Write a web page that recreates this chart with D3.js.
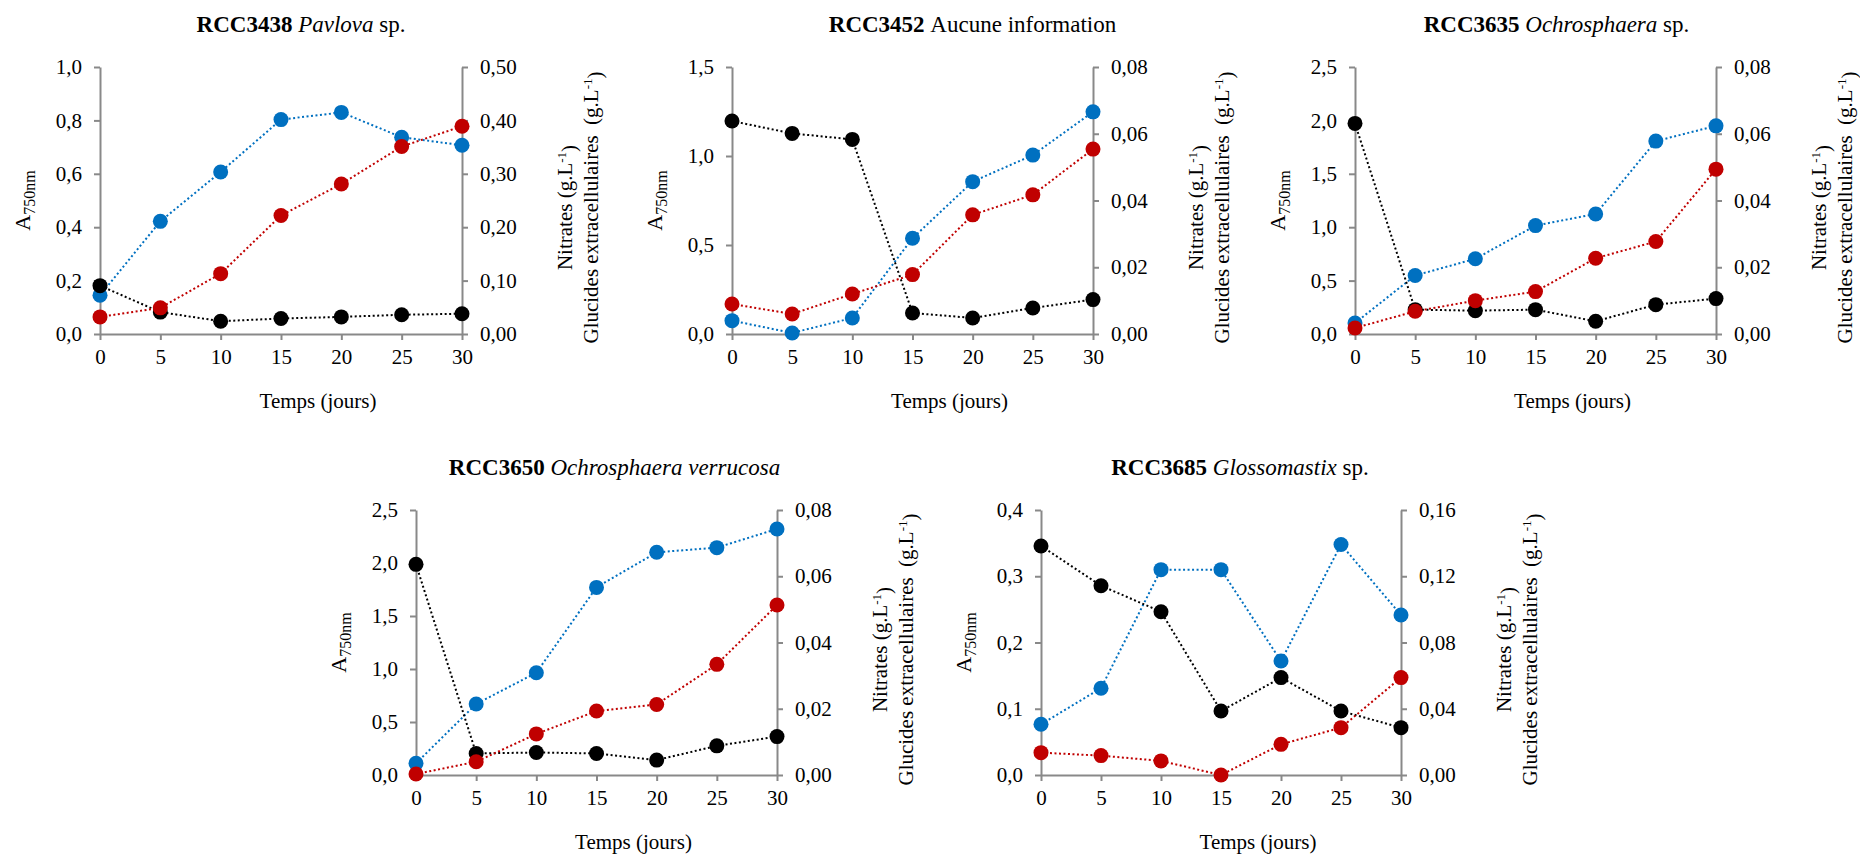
<!DOCTYPE html>
<meta charset='utf-8'>
<style>

body {
  margin: 0;
  background: #fff;
  font-family: 'Liberation Serif', 'Times New Roman', serif;
}

.axis line, .axis path {
  stroke: #898989;
  stroke-width: 2;
  fill: none;
}

.serie path {
  fill: none;
  stroke-width: 2;
  stroke-dasharray: 2,2.5;
}

</style>
<svg width='1860' height='857'></svg>

<script src='https://d3js.org/d3.v7.min.js'></script>

<script>

// --- data ---
var days = [0, 5, 10, 15, 20, 25, 30];

var strains = ['RCC3438', 'RCC3452', 'RCC3635', 'RCC3650', 'RCC3685'];
var taxa = ['Pavlova', 'Aucune information', 'Ochrosphaera', 'Ochrosphaera verrucosa', 'Glossomastix'];
var taxaItalic = [true, false, true, true, true];
var taxaSuffix = [' sp.', '', ' sp.', '', ' sp.'];

// A750nm (left axis, blue)
var absorbance = [
  [0.145, 0.422, 0.607, 0.803, 0.830, 0.737, 0.707],
  [0.075, 0.006, 0.090, 0.538, 0.856, 1.005, 1.248],
  [0.103, 0.548, 0.704, 1.015, 1.124, 1.806, 1.949],
  [0.110, 0.670, 0.965, 1.770, 2.101, 2.145, 2.321],
  [0.0765, 0.131, 0.310, 0.310, 0.172, 0.348, 0.2415]
];

// nitrates g.L-1 (right axis, black)
var nitrates = [
  [0.0905, 0.041, 0.024, 0.029, 0.032, 0.036, 0.038],
  [0.0638, 0.0601, 0.0583, 0.0063, 0.0048, 0.0078, 0.0103],
  [0.0631, 0.0073, 0.0070, 0.0073, 0.0038, 0.0088, 0.0106],
  [0.0636, 0.0065, 0.0068, 0.0065, 0.0045, 0.0088, 0.0116],
  [0.1383, 0.1143, 0.0986, 0.0386, 0.0588, 0.0386, 0.0286]
];

// glucides extracellulaires g.L-1 (right axis, red)
var glucides = [
  [0.032, 0.049, 0.113, 0.222, 0.281, 0.351, 0.389],
  [0.0090, 0.0060, 0.0120, 0.0178, 0.0357, 0.0417, 0.0554],
  [0.0018, 0.0068, 0.0100, 0.0127, 0.0227, 0.0277, 0.0494],
  [0.0003, 0.0040, 0.0124, 0.0193, 0.0213, 0.0334, 0.0513],
  [0.0135, 0.0117, 0.0085, 0.0000, 0.0185, 0.0286, 0.0588]
];

var leftMax = [1.0, 1.5, 2.5, 2.5, 0.4];
var leftStep = [0.2, 0.5, 0.5, 0.5, 0.1];
var rightMax = [0.5, 0.08, 0.08, 0.08, 0.16];
var rightStep = [0.1, 0.02, 0.02, 0.02, 0.04];

// --- layout ---
var boxes = [
  {x: 100, y: 67, w: 362, h: 267, titleDx: 20},
  {x: 732, y: 67, w: 361, h: 267, titleDx: 60},
  {x: 1355, y: 67, w: 361, h: 267, titleDx: 21},
  {x: 416, y: 510, w: 361, h: 265, titleDx: 18},
  {x: 1041, y: 510, w: 360, h: 265, titleDx: 19}
];

var serif = "'Liberation Serif', 'Times New Roman', serif";
var svg = d3.select('svg');
var fmt1 = function(v) { return d3.format('.1f')(v).replace('.', ','); };
var fmt2 = function(v) { return d3.format('.2f')(v).replace('.', ','); };

function ticksOf(max, step) {
  var t = [];
  for (var i = 0; i <= Math.round(max / step); i++) t.push(+(i * step).toFixed(4));
  return t;
}

// d3 puts sans-serif 10px on the axis group, override it
function styleAxis(sel) {
  sel.attr('font-family', serif).attr('font-size', 21);
  sel.selectAll('text').style('font-family', serif).style('font-size', '21px').attr('fill', '#000');
}

strains.forEach(function(id, i) {
  var b = boxes[i];
  var g = svg.append('g').attr('transform', 'translate(' + b.x + ',' + b.y + ')');

  var x = d3.scaleLinear().domain([0, 30]).range([0, b.w]);
  var yL = d3.scaleLinear().domain([0, leftMax[i]]).range([b.h, 0]);
  var yR = d3.scaleLinear().domain([0, rightMax[i]]).range([b.h, 0]);

  // axes
  var xAxis = d3.axisBottom(x).tickValues(days).tickSize(6).tickPadding(8).tickSizeOuter(0);
  var gx = g.append('g').attr('class', 'axis').attr('transform', 'translate(0,' + b.h + ')').call(xAxis);
  gx.selectAll('text').attr('dy', '0.75em');
  styleAxis(gx);

  var gl = g.append('g').attr('class', 'axis')
      .call(d3.axisLeft(yL).tickValues(ticksOf(leftMax[i], leftStep[i])).tickFormat(fmt1)
        .tickSize(6).tickPadding(12).tickSizeOuter(0));
  styleAxis(gl);
  var gr = g.append('g').attr('class', 'axis').attr('transform', 'translate(' + b.w + ',0)')
      .call(d3.axisRight(yR).tickValues(ticksOf(rightMax[i], rightStep[i])).tickFormat(fmt2)
        .tickSize(6).tickPadding(12).tickSizeOuter(0));
  styleAxis(gr);

  // title
  var title = svg.append('text')
      .attr('x', b.x + b.w / 2 + b.titleDx)
      .attr('y', b.y - 35)
      .attr('text-anchor', 'middle')
      .style('font-size', '23px');
  title.append('tspan').attr('font-weight', 'bold').text(id + ' ');
  title.append('tspan').attr('font-style', taxaItalic[i] ? 'italic' : 'normal').text(taxa[i]);
  if (taxaSuffix[i]) title.append('tspan').text(taxaSuffix[i]);

  // x label
  g.append('text')
      .attr('x', b.w / 2 + 37)
      .attr('y', b.h + 74)
      .attr('text-anchor', 'middle')
      .style('font-size', '21px')
      .text('Temps (jours)');

  // left label A750nm
  var la = g.append('text')
      .attr('transform', 'translate(-70,' + (b.h / 2) + ') rotate(-90)')
      .attr('text-anchor', 'middle')
      .style('font-size', '22px');
  la.append('tspan').text('A');
  la.append('tspan').attr('dy', '0.3em').style('font-size', '16px').text('750nm');

  // right labels
  var rl = g.append('g').attr('transform', 'translate(' + (b.w + 110) + ',' + (b.h / 2 + 7) + ') rotate(-90)');
  var l1 = rl.append('text').attr('text-anchor', 'middle').style('font-size', '21px');
  l1.append('tspan').text('Nitrates (g.L');
  l1.append('tspan').attr('dy', '-0.45em').style('font-size', '13px').text('-1');
  l1.append('tspan').attr('dy', '0.45em').text(')');
  var l2 = rl.append('text').attr('y', 26).attr('text-anchor', 'middle').style('font-size', '21px');
  l2.append('tspan').text('Glucides extracellulaires\u00a0\u00a0(g.L');
  l2.append('tspan').attr('dy', '-0.45em').style('font-size', '13px').text('-1');
  l2.append('tspan').attr('dy', '0.45em').text(')');

  // series: blue (left), black then red (right)
  var series = [
    {vals: absorbance[i], y: yL, color: '#0070C0'},
    {vals: nitrates[i], y: yR, color: '#000000'},
    {vals: glucides[i], y: yR, color: '#C00000'}
  ];

  series.forEach(function(s) {
    var sg = g.append('g').attr('class', 'serie');
    var line = d3.line()
        .x(function(d, k) { return x(days[k]); })
        .y(function(d) { return s.y(d); });
    sg.append('path').attr('d', line(s.vals)).attr('stroke', s.color);
    sg.selectAll('circle')
        .data(s.vals)
        .enter()
        .append('circle')
        .attr('cx', function(d, k) { return x(days[k]); })
        .attr('cy', function(d) { return s.y(d); })
        .attr('r', 7.5)
        .attr('fill', s.color);
  });
});

</script>
